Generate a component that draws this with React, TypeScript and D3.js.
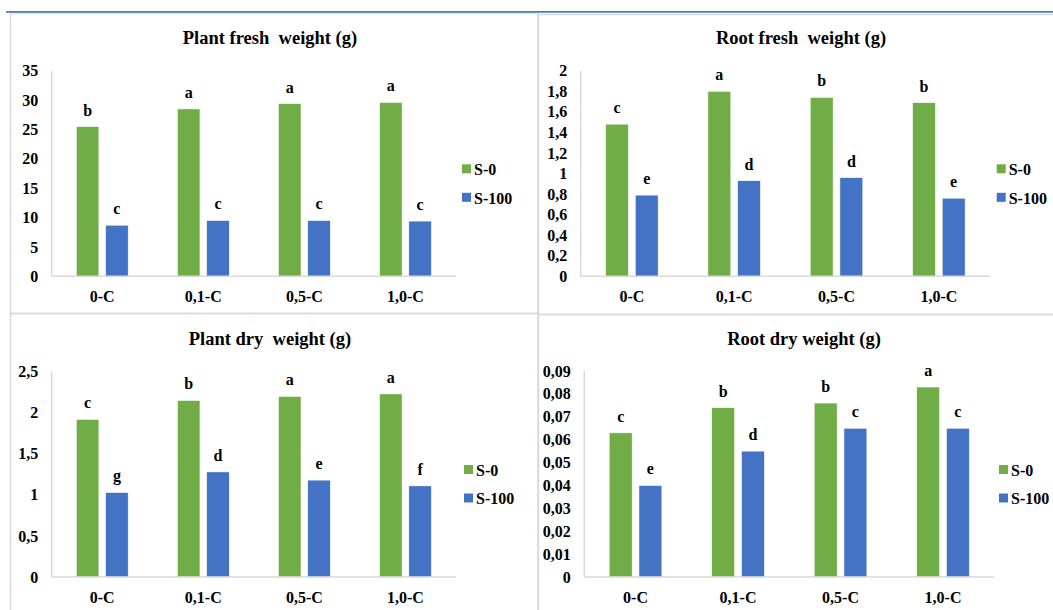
import React from "react";
import * as d3 from "d3";

const categories = ["0-C", "0,1-C", "0,5-C", "1,0-C"];
const seriesNames = ["S-0", "S-100"];

const pfwS0 = [25.5, 28.5, 29.4, 29.6];
const pfwS100 = [8.7, 9.5, 9.5, 9.4];
const pfwL0 = ["b", "a", "a", "a"];
const pfwL100 = ["c", "c", "c", "c"];
const pfwTicks = [0, 5, 10, 15, 20, 25, 30, 35];

const rfwS0 = [1.48, 1.8, 1.74, 1.69];
const rfwS100 = [0.79, 0.93, 0.96, 0.76];
const rfwL0 = ["c", "a", "b", "b"];
const rfwL100 = ["e", "d", "d", "e"];
const rfwTicks = [0, 0.2, 0.4, 0.6, 0.8, 1, 1.2, 1.4, 1.6, 1.8, 2];

const pdwS0 = [1.92, 2.15, 2.2, 2.23];
const pdwS100 = [1.03, 1.28, 1.18, 1.11];
const pdwL0 = ["c", "b", "a", "a"];
const pdwL100 = ["g", "d", "e", "f"];
const pdwTicks = [0, 0.5, 1, 1.5, 2, 2.5];

const rdwS0 = [0.063, 0.074, 0.076, 0.083];
const rdwS100 = [0.04, 0.055, 0.065, 0.065];
const rdwL0 = ["c", "b", "b", "a"];
const rdwL100 = ["e", "d", "c", "c"];
const rdwTicks = [0, 0.01, 0.02, 0.03, 0.04, 0.05, 0.06, 0.07, 0.08, 0.09];

const GREEN = "#70ad47";
const BLUE = "#4472c4";
const GRID = "#d9d9d9";
const FONT = "'Liberation Serif', 'Times New Roman', serif";

const fmt = (v: number) => String(+v.toFixed(4)).replace(".", ",");

type PanelProps = {
  title: string;
  titleX: number;
  titleY: number;
  x0: number;
  x1: number;
  yTop: number;
  yBot: number;
  ticks: number[];
  s0: number[];
  s100: number[];
  l0: string[];
  l100: string[];
  legX: number;
  legY: number;
};

function Panel(p: PanelProps) {
  const x = d3.scaleBand<string>().domain(categories).range([p.x0, p.x1]).padding(0);
  const y = d3
    .scaleLinear()
    .domain([0, p.ticks[p.ticks.length - 1]])
    .range([p.yBot, p.yTop]);
  const bw = x.bandwidth() * 0.224;
  const gap = x.bandwidth() * 0.066;
  const series = [
    { vals: p.s0, letters: p.l0, color: GREEN, off: -(gap / 2 + bw) },
    { vals: p.s100, letters: p.l100, color: BLUE, off: gap / 2 },
  ];
  return (
    <g fontFamily={FONT} fontWeight="bold" fill="#000">
      <text
        x={p.titleX}
        y={p.titleY}
        textAnchor="middle"
        fontSize={18.5}
        style={{ whiteSpace: "pre" }}
      >
        {p.title}
      </text>
      <line x1={p.x0} x2={p.x0} y1={p.yTop} y2={p.yBot} stroke={GRID} strokeWidth={1.5} />
      {p.ticks.map((t) => (
        <text key={t} x={p.x0 - 13.5} y={y(t)} dy="0.35em" textAnchor="end" fontSize={16}>
          {fmt(t)}
        </text>
      ))}
      {series.map((s, si) =>
        categories.map((c, i) => {
          const cx = (x(c) as number) + x.bandwidth() / 2 + s.off;
          return (
            <g key={si + "-" + c}>
              <rect
                x={cx}
                y={y(s.vals[i])}
                width={bw}
                height={p.yBot - y(s.vals[i])}
                fill={s.color}
                stroke="#ffffff"
                strokeWidth={0.6}
              />
              <text x={cx + bw / 2} y={y(s.vals[i]) - 11} textAnchor="middle" fontSize={16}>
                {s.letters[i]}
              </text>
            </g>
          );
        })
      )}
      <line x1={p.x0} x2={p.x1} y1={p.yBot} y2={p.yBot} stroke={GRID} strokeWidth={1.5} />
      {categories.map((c) => (
        <text
          key={c}
          x={(x(c) as number) + x.bandwidth() / 2}
          y={p.yBot + 25.5}
          textAnchor="middle"
          fontSize={16}
        >
          {c}
        </text>
      ))}
      {seriesNames.map((n, i) => (
        <g key={n}>
          <rect x={p.legX} y={p.legY + i * 28.5} width={9} height={9} fill={i === 0 ? GREEN : BLUE} />
          <text x={p.legX + 12} y={p.legY + i * 28.5 + 10.8} fontSize={16}>
            {n}
          </text>
        </g>
      ))}
    </g>
  );
}

export default function App() {
  return (
    <svg
      width={1053}
      height={610}
      style={{ position: "absolute", left: 0, top: 0, background: "#fff" }}
    >
      <rect x={0} y={0} width={1053} height={610} fill="#fff" />
      {/* panel borders */}
      <rect x={10.5} y={13} width={527.5} height={300.5} fill="none" stroke={GRID} strokeWidth={1.5} />
      <rect x={538.5} y={14.5} width={530} height={300} fill="none" stroke={GRID} strokeWidth={1.5} />
      <rect x={10.5} y={313.5} width={527.5} height={310} fill="none" stroke={GRID} strokeWidth={1.5} />
      <rect x={538.5} y={314.5} width={530} height={310} fill="none" stroke={GRID} strokeWidth={1.5} />
      <line x1={6} x2={1053} y1={11.8} y2={11.8} stroke="#4a7ebb" strokeWidth={1.8} />

      <Panel
        title="Plant fresh  weight (g)"
        titleX={270}
        titleY={44}
        x0={51.7}
        x1={456}
        yTop={70.7}
        yBot={276.3}
        ticks={pfwTicks}
        s0={pfwS0}
        s100={pfwS100}
        l0={pfwL0}
        l100={pfwL100}
        legX={462}
        legY={164.3}
      />
      <Panel
        title="Root fresh  weight (g)"
        titleX={801}
        titleY={44}
        x0={580.7}
        x1={990}
        yTop={70.7}
        yBot={276.3}
        ticks={rfwTicks}
        s0={rfwS0}
        s100={rfwS100}
        l0={rfwL0}
        l100={rfwL100}
        legX={996.7}
        legY={164.3}
      />
      <Panel
        title="Plant dry  weight (g)"
        titleX={270}
        titleY={345}
        x0={51.7}
        x1={456}
        yTop={371.7}
        yBot={577}
        ticks={pdwTicks}
        s0={pdwS0}
        s100={pdwS100}
        l0={pdwL0}
        l100={pdwL100}
        legX={464}
        legY={465}
      />
      <Panel
        title="Root dry weight (g)"
        titleX={804}
        titleY={345}
        x0={584.3}
        x1={994.3}
        yTop={371}
        yBot={577}
        ticks={rdwTicks}
        s0={rdwS0}
        s100={rdwS100}
        l0={rdwL0}
        l100={rdwL100}
        legX={999}
        legY={465}
      />
    </svg>
  );
}
